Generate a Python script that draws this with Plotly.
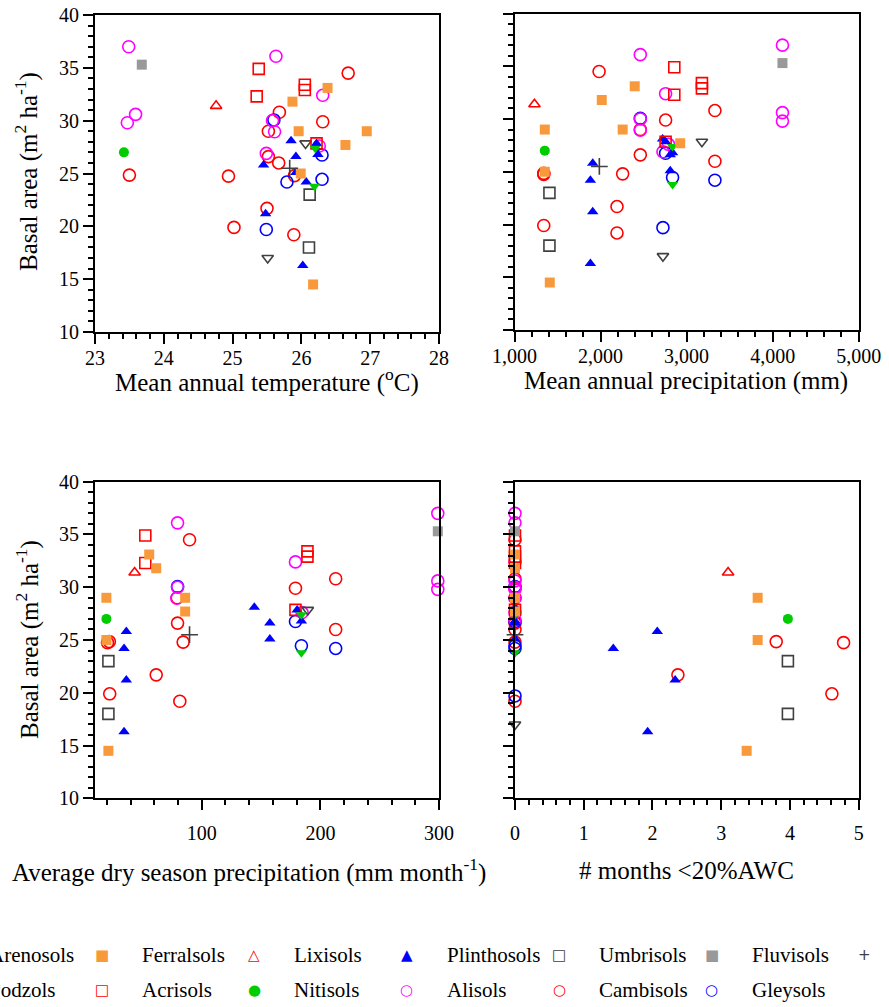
import plotly.graph_objects as go

# ---------------- data (one entry per plot / site) ----------------
SOIL = (
    ["Fluvisols"] + ["Nitisols"] + ["Lixisols"] + ["+"]
    + ["Ferralsols"] * 7 + ["Acrisols"] * 5 + ["Umbrisols"] * 2
    + ["Arenosols"] * 2 + ["Podzols"] * 2 + ["Plinthosols"] * 9
    + ["Gleysols"] * 5 + ["Alisols"] * 9 + ["Cambisols"] * 12
)
NAN = float("nan")
# Mean annual temperature (oC)
TEMP = [23.68, 23.42, 24.76, 25.83,
        26.38, 25.87, 25.96, 26.95, 26.64, 25.99, 26.17,
        25.38, 25.35, 26.05, 26.05, 26.22,
        26.12, 26.11,
        26.06, 25.51,
        26.20, 26.19,
        25.85, 26.22, 25.92, 26.24, 25.92, 25.45, 26.07, 25.48, 26.02,
        25.60, 26.30, 26.30, 25.79, 25.49,
        23.49, 23.59, 23.47, 25.63, 25.58, 25.61, 25.49, 26.31, 26.26,
        26.68, 25.68, 26.31, 25.52, 25.52, 25.67, 25.90, 23.50, 24.94, 25.50, 25.02, 25.89]
# Mean annual precipitation (mm)
PRECIP = [4114, 1352, 1232, 1986,
          2397, 2014, 1352, 2257, 2926, 1352, 1410,
          2857, 2857, 3178, 3178, 2756,
          1406, 1406,
          3178, 2725,
          2837, 2837,
          2721, 2756, 2810, 2837, 2810, 1909, 1882, 1909, 1882,
          2462, 2756, 2837, 3329, 2725,
          4114, 4114, 4114, 2462, 2462, 2462, 2725, 2756, 2790,
          1983, 3329, 2756, 2462, 2462, 3329, 2257, 1340, 1340, 2191, 1340, 2191]
# Average dry season precipitation (mm month-1)
DRY_PRECIP = [299, 19.6, 43.4, 89.7,
              55.7, 61.6, 19.6, 86.0, 86.0, 19.6, 21.3,
              52.4, 52.4, 189.1, 189.1, 179,
              21.3, 21.3,
              189.4, NAN,
              184, 184,
              144.3, 180.4, 157.4, 184, 157.4, 36.4, 34.5, 36.4, 34.5,
              79.6, 179, 184, 212.9, NAN,
              299, 299, 299, 79.6, 79.6, 79.0, NAN, 179, 184.6,
              89.7, 212.9, 179, 79.3, 79.6, 212.9, 84.3, 22.1, 20.5, 61.6, 22.4, 81.5]
# Number of months with < 20% available water capacity
MONTHS_DRY = [0, 3.97, 3.10, 0,
              0, 0, 3.53, 0, 0, 3.53, 3.37,
              0, 0, 0, 0, 0,
              3.97, 3.97,
              0, 0,
              0, 0,
              0, 0, 0, 0, 0, 2.07, 1.43, 2.33, 1.93,
              0, 0, 0, 0, 0,
              0, 0, 0, 0, 0, 0, 0, 0, 0,
              0, 0, 0, 0, 0, 0, 0, 3.80, 4.78, 2.37, 4.61, 0]
# Basal area (m2 ha-1)
BASAL_AREA = [35.3, 27.0, 31.4, 25.5,
              33.1, 31.8, 29.0, 29.0, 27.7, 25.0, 14.5,
              34.9, 32.3, 33.4, 32.9, 27.85,
              23.0, 18.0,
              27.85, 17.0,
              27.4, 23.8,
              28.1, 27.85, 26.6, 26.8, 25.1, 25.8, 24.2, 21.2, 16.3,
              30.07, 26.75, 24.45, 24.2, 19.7,
              37.0, 30.6, 29.8, 36.1, 30.0, 28.95, 26.9, 32.4, 27.6,
              34.5, 30.8, 29.9, 29.0, 26.6, 26.0, 24.8, 24.85, 24.75, 21.7, 19.9, 19.2]

X_TITLES = ["Mean annual temperature (<sup>o</sup>C)",
            "Mean annual precipitation (mm)",
            "Average dry season precipitation (mm month<sup>-1</sup>)",
            "# months &lt;20%AWC"]
Y_TITLE = "Basal area (m<sup>2</sup> ha<sup>-1</sup>)"

LEGEND_ROW1 = ["Arenosols", "Ferralsols", "Lixisols", "Plinthosols", "Umbrisols", "Fluvisols", "+"]
LEGEND_ROW2 = ["Podzols", "Acrisols", "Nitisols", "Alisols", "Cambisols", "Gleysols"]

# ---------------- styles ----------------
FONT = "'Liberation Serif', 'Times New Roman', serif"
ORANGE = "#F89A3C"
RED = "#FF0000"
BLUE = "#0000FF"
MAGENTA = "#FF00FF"
GREEN = "#00CC00"
DGRAY = "#404040"
LGRAY = "#999999"

STYLE = {
    "Cambisols": ("circle-open", RED, 12),
    "Gleysols": ("circle-open", BLUE, 12),
    "Alisols": ("circle-open", MAGENTA, 12),
    "Umbrisols": ("square-open", DGRAY, 11),
    "Arenosols": ("triangle-down-open", DGRAY, 10),
    "Plinthosols": ("triangle-up", BLUE, 10),
    "Acrisols": ("square-open", RED, 11),
    "Lixisols": ("triangle-up-open", RED, 10),
    "Podzols": ("triangle-down", GREEN, 10),
    "Nitisols": ("circle", GREEN, 10),
    "Ferralsols": ("square", ORANGE, 10),
    "Fluvisols": ("square", LGRAY, 10),
    "+": ("cross-thin-open", DGRAY, 12),
}
GLYPH = {"circle-open": "○", "circle": "●", "square-open": "□", "square": "■",
         "triangle-up-open": "△", "triangle-up": "▲", "triangle-down-open": "▽",
         "triangle-down": "▼", "cross-thin-open": "+"}
DRAW_ORDER = ["Cambisols", "Gleysols", "Alisols", "Umbrisols", "Arenosols", "Plinthosols",
              "Acrisols", "Lixisols", "Podzols", "Nitisols", "Ferralsols", "Fluvisols", "+"]

W, H = 889, 1007
# panel boxes in pixels (left, right, top, bottom)
BOXES = [(95, 439, 15, 332), (514.5, 858.7, 13.5, 330),
         (95, 439, 481.7, 798.3), (515, 858.7, 481.7, 798.3)]
# title centres in pixels
X_TITLE_POS = [(266.5, 381), (686, 381), (249, 870), (686.5, 870)]
Y_TITLE_POS = [(27, 172), None, (27, 640), None]
TICKLABEL_SHIFT = [-3, -3, 6, 6]
XVALS = [TEMP, PRECIP, DRY_PRECIP, MONTHS_DRY]

fig = go.Figure()
for i, xv in enumerate(XVALS):
    sfx = "" if i == 0 else str(i + 1)
    for soil in DRAW_ORDER:
        idx = [k for k, s in enumerate(SOIL) if s == soil]
        sym, col, size = STYLE[soil]
        open_sym = sym.endswith("open")
        fig.add_trace(go.Scatter(
            x=[xv[k] for k in idx], y=[BASAL_AREA[k] for k in idx],
            mode="markers", name=soil, showlegend=False, cliponaxis=False,
            xaxis="x" + sfx, yaxis="y" + sfx,
            marker=dict(symbol=sym, size=size, color=col,
                        line=dict(color=col, width=1.6 if open_sym else 0)),
        ))

axis_common = dict(showline=True, linecolor="black", linewidth=2, mirror=True,
                   ticks="outside", ticklen=10, tickwidth=1.5, tickcolor="black",
                   showgrid=False, zeroline=False, automargin=False,
                   tickfont=dict(family=FONT, size=20, color="black"))

xcfg = [dict(range=[23, 28], dtick=1, tick0=0, minor=dict(dtick=0.2, tick0=0)),
        dict(range=[1000, 5000], dtick=1000, tick0=0, tickformat=",", minor=dict(dtick=200, tick0=0)),
        dict(range=[10, 300], tickvals=[100, 200, 300], minor=dict(dtick=20, tick0=0)),
        dict(range=[0, 5], dtick=1, tick0=0, minor=dict(dtick=0.2, tick0=0))]

layout = dict(width=W, height=H, margin=dict(l=0, r=0, t=0, b=0),
              paper_bgcolor="white", plot_bgcolor="white", showlegend=False,
              font=dict(family=FONT, color="black"))
ann = []
for i, (l, r, t, b) in enumerate(BOXES):
    sfx = "" if i == 0 else str(i + 1)
    xa = dict(axis_common)
    xa.update(xcfg[i])
    xa["minor"] = dict(xa["minor"], ticks="outside", ticklen=5, tickwidth=1.5,
                       tickcolor="black", showgrid=False)
    xa.update(domain=[l / W, r / W], anchor="y" + sfx, ticklabelstandoff=TICKLABEL_SHIFT[i])
    tx, ty = X_TITLE_POS[i]
    ann.append(dict(x=tx / W, y=1 - ty / H, xref="paper", yref="paper",
                    text=X_TITLES[i], showarrow=False, xanchor="center", yanchor="middle",
                    font=dict(family=FONT, size=25, color="black")))
    ya = dict(axis_common)
    ya.update(range=[10, 40], dtick=5, tick0=0,
              minor=dict(dtick=1, tick0=0, ticks="outside", ticklen=5, tickwidth=1.5,
                         tickcolor="black", showgrid=False),
              domain=[1 - b / H, 1 - t / H], anchor="x" + sfx,
              showticklabels=(i % 2 == 0))
    if Y_TITLE_POS[i] is not None:
        yx, yy = Y_TITLE_POS[i]
        ann.append(dict(x=yx / W, y=1 - yy / H, xref="paper", yref="paper",
                        text=Y_TITLE, showarrow=False, textangle=-90,
                        xanchor="center", yanchor="middle",
                        font=dict(family=FONT, size=25, color="black")))
    layout["xaxis" + sfx] = xa
    layout["yaxis" + sfx] = ya

# ---------------- legend (two rows, wider than the page as in the source) ----------------
COL0_SYMBOL_X = 101.5 - 152.6
COL_STEP = 152.6
LABEL_OFFSET = 38
ROW_Y = [955, 990]
for r, row in enumerate([LEGEND_ROW1, LEGEND_ROW2]):
    for c, soil in enumerate(row):
        sym, col, size = STYLE[soil]
        sx = COL0_SYMBOL_X + c * COL_STEP
        ann.append(dict(x=sx / W, y=1 - ROW_Y[r] / H, xref="paper", yref="paper",
                        text=GLYPH[sym], showarrow=False, xanchor="center", yanchor="middle",
                        font=dict(family="DejaVu Sans", size=15, color=col)))
        if soil != "+":
            ann.append(dict(x=(sx + LABEL_OFFSET) / W, y=1 - ROW_Y[r] / H, xref="paper", yref="paper",
                            text=soil, showarrow=False, xanchor="left", yanchor="middle",
                            font=dict(family=FONT, size=21, color="black")))
layout["annotations"] = ann

fig.update_layout(**layout)
fig.write_html("out.html", config={"displayModeBar": False},
               post_script="document.body.style.margin='0px';")
